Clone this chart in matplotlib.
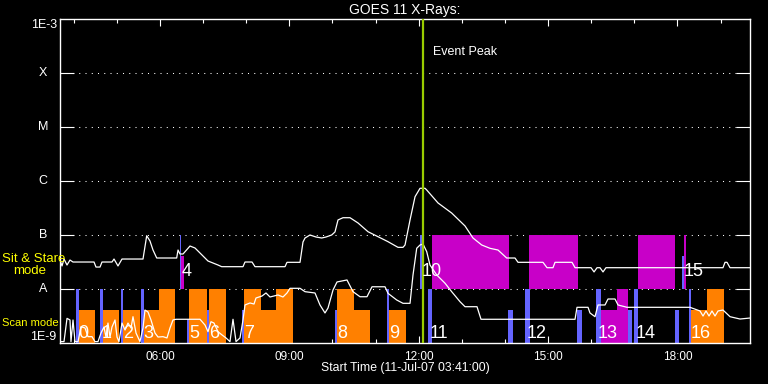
import matplotlib
matplotlib.use('Agg')
import matplotlib.pyplot as plt
import matplotlib.transforms as mtransforms

plt.rcParams['font.family'] = ['Liberation Sans', 'DejaVu Sans']

# time axis in decimal hours of 11-Jul-07
t_start = 3 + 41 / 60.0
t_end = t_start + 16.0
peak_time = 12.10

# GOES 11 long channel (1-8 A), W/m^2
long_t = [3.683, 3.730, 3.776, 3.846, 3.915, 3.985, 4.472, 4.518, 4.611, 4.657,
          4.889, 4.936, 5.028, 5.121, 5.608, 5.694, 5.770, 5.840, 5.926, 6.389,
          6.420, 6.466, 6.536, 6.698, 6.814, 6.930, 7.115, 7.347, 7.433, 7.927,
          7.973, 8.136, 8.205, 8.901, 8.947, 9.249, 9.318, 9.365, 9.480, 9.619,
          9.752, 9.852, 9.983, 10.060, 10.130, 10.246, 10.408, 10.594, 10.826, 11.057,
          11.289, 11.521, 11.637, 11.684, 11.800, 11.916, 12.032, 12.147, 12.187, 12.449,
          12.766, 13.075, 13.260, 13.462, 13.654, 13.840, 14.041, 14.234, 14.304, 14.883,
          14.976, 15.115, 15.162, 15.556, 15.626, 15.997, 16.067, 16.136, 16.205, 16.275,
          16.344, 19.057, 19.104, 19.150, 19.220, 19.683]
long_f = [3.44e-8, 2.67e-8, 3.59e-8, 2.78e-8, 3.44e-8, 3.16e-8, 3.16e-8, 2.55e-8, 2.55e-8, 3.16e-8,
          3.16e-8, 3.59e-8, 2.67e-8, 3.59e-8, 3.59e-8, 9.7e-8, 7.74e-8, 5.27e-8, 3.75e-8, 3.75e-8,
          5.27e-8, 4.45e-8, 4.45e-8, 6.25e-8, 5.74e-8, 4.64e-8, 3.30e-8, 2.78e-8, 2.59e-8, 2.59e-8,
          3.16e-8, 3.16e-8, 2.59e-8, 2.59e-8, 3.12e-8, 3.12e-8, 7.42e-8, 8.80e-8, 1.0e-7, 9.18e-8,
          8.80e-8, 9.18e-8, 1.0e-7, 1.14e-7, 1.90e-7, 2.09e-7, 2.09e-7, 1.67e-7, 1.15e-7, 9.31e-8,
          7.52e-8, 5.91e-8, 5.91e-8, 6.53e-8, 1.90e-7, 5.12e-7, 7.33e-7, 7.33e-7, 6.81e-7, 3.92e-7,
          2.55e-7, 1.47e-7, 8.80e-8, 6.53e-8, 5.67e-8, 5.27e-8, 3.75e-8, 3.75e-8, 3.12e-8, 3.12e-8,
          2.48e-8, 2.48e-8, 3.12e-8, 3.12e-8, 2.48e-8, 2.48e-8, 2.07e-8, 2.48e-8, 2.48e-8, 2.07e-8,
          2.48e-8, 2.48e-8, 3.12e-8, 3.12e-8, 2.48e-8, 2.48e-8]

# GOES 11 short channel (0.5-4 A), W/m^2
short_t = [3.707, 3.776, 3.846, 3.915, 3.938, 3.985, 4.031, 4.101, 4.170, 4.263,
           4.333, 4.425, 4.495, 4.564, 4.634, 4.704, 4.750, 4.796, 4.843, 4.889,
           4.959, 5.005, 5.051, 5.121, 5.191, 5.260, 5.330, 5.376, 5.446, 5.538,
           5.608, 5.654, 5.724, 5.793, 5.886, 5.956, 6.072, 6.164, 6.234, 6.304,
           6.373, 6.930, 7.046, 7.115, 7.185, 7.254, 7.347, 7.440, 7.533, 7.625,
           7.695, 7.765, 7.857, 7.927, 7.973, 8.089, 8.182, 8.228, 8.367, 8.460,
           8.553, 8.738, 8.854, 8.947, 9.017, 9.249, 9.365, 9.596, 9.712, 9.828,
           9.898, 10.014, 10.107, 10.338, 10.478, 10.640, 10.802, 10.918, 11.220, 11.289,
           11.491, 11.637, 11.800, 11.869, 11.955, 12.032, 12.101, 12.187, 12.263, 12.419,
           12.611, 12.766, 12.959, 13.075, 13.353, 13.446, 15.626, 15.672, 15.927, 15.973,
           16.089, 16.159, 16.321, 16.391, 16.553, 16.623, 16.832, 18.292, 18.524, 18.594,
           18.663, 18.733, 18.802, 18.872, 18.942, 19.057, 19.220, 19.452, 19.683]
short_f = [1.06e-9, 1.06e-9, 2.86e-9, 2.67e-9, 1.06e-9, 2.67e-9, 1.06e-9, 1.06e-9, 2.0e-9, 1.90e-9,
           1.31e-9, 1.31e-9, 1.06e-9, 1.06e-9, 1.53e-9, 1.98e-9, 1.29e-9, 2.34e-9, 1.29e-9, 1.98e-9,
           2.67e-9, 1.29e-9, 1.06e-9, 2.34e-9, 1.74e-9, 2.34e-9, 1.90e-9, 3.07e-9, 1.53e-9, 1.06e-9,
           1.90e-9, 4.08e-9, 3.75e-9, 2.67e-9, 1.53e-9, 1.29e-9, 1.31e-9, 1.24e-9, 1.90e-9, 2.67e-9,
           2.75e-9, 2.75e-9, 2.15e-9, 1.62e-9, 2.48e-9, 2.34e-9, 1.62e-9, 1.41e-9, 1.24e-9, 1.06e-9,
           2.75e-9, 1.06e-9, 1.24e-9, 2.67e-9, 5.06e-9, 5.51e-9, 5.27e-9, 6.81e-9, 7.41e-9, 8.44e-9,
           7.11e-9, 7.75e-9, 7.11e-9, 8.44e-9, 1.03e-8, 1.03e-8, 8.92e-9, 8.44e-9, 5.06e-9, 3.60e-9,
           4.45e-9, 9.58e-9, 1.35e-8, 1.47e-8, 8.92e-9, 7.19e-9, 7.19e-9, 1.10e-8, 1.10e-8, 8.32e-9,
           6.26e-9, 5.43e-9, 5.43e-9, 1.82e-8, 5.68e-8, 6.53e-8, 6.81e-8, 4.91e-8, 2.78e-8, 1.82e-8,
           1.28e-8, 8.92e-9, 5.82e-9, 4.70e-9, 4.70e-9, 2.75e-9, 2.75e-9, 4.58e-9, 4.58e-9, 3.60e-9,
           3.07e-9, 5.06e-9, 5.06e-9, 6.53e-9, 6.53e-9, 5.06e-9, 4.58e-9, 4.58e-9, 3.92e-9, 3.16e-9,
           3.92e-9, 3.16e-9, 3.92e-9, 3.16e-9, 3.92e-9, 4.08e-9, 3.07e-9, 2.78e-9, 2.90e-9]

# observation blocks: start, end, top of block, kind
scan_blocks = [
    (4.055, 4.117, 1e-8, 'blue'), (4.117, 4.488, 4.1e-9, 'orange'),
    (4.611, 4.687, 1e-8, 'blue'), (4.687, 5.058, 4.1e-9, 'orange'),
    (5.098, 5.151, 1e-8, 'blue'), (5.151, 5.538, 4.1e-9, 'orange'),
    (5.569, 5.624, 1e-8, 'blue'), (5.624, 5.979, 4.1e-9, 'orange'),
    (5.979, 6.350, 1e-8, 'orange'),
    (6.628, 6.682, 2.8e-9, 'blue'), (6.682, 7.085, 1e-8, 'orange'),
    (7.085, 7.139, 4.1e-9, 'blue'), (7.139, 7.533, 1e-8, 'orange'),
    (7.904, 7.950, 4.1e-9, 'blue'), (7.950, 8.337, 1e-8, 'orange'),
    (8.337, 8.699, 4.1e-9, 'orange'), (8.699, 9.079, 1e-8, 'orange'),
    (10.060, 10.107, 4.1e-9, 'blue'), (10.107, 10.501, 1e-8, 'orange'),
    (10.501, 10.872, 4.1e-9, 'orange'),
    (11.266, 11.319, 1e-8, 'blue'), (11.319, 11.707, 4.1e-9, 'orange'),
    (12.210, 12.310, 1e-8, 'blue'),
    (14.071, 14.187, 4.1e-9, 'blue'), (14.466, 14.574, 1e-8, 'blue'),
    (15.672, 15.781, 4.1e-9, 'blue'), (16.112, 16.221, 1e-8, 'blue'),
    (16.221, 16.847, 4.1e-9, 'magenta'), (16.600, 16.847, 1e-8, 'magenta'),
    (16.847, 16.940, 4.1e-9, 'blue'), (16.994, 17.079, 1e-8, 'blue'),
    (17.944, 18.037, 4.1e-9, 'blue'), (18.269, 18.322, 1e-8, 'blue'),
    (18.322, 18.686, 4.1e-9, 'orange'), (18.686, 19.080, 1e-8, 'orange'),
]
stare_blocks = [
    (6.466, 6.497, 1e-7, 'blue'), (6.497, 6.559, 4.1e-8, 'magenta'),
    (12.032, 12.085, 1e-7, 'blue'), (12.303, 14.087, 1e-7, 'magenta'),
    (14.558, 15.688, 1e-7, 'magenta'), (17.079, 17.944, 1e-7, 'magenta'),
    (18.107, 18.153, 4.1e-8, 'blue'), (18.153, 18.199, 1e-7, 'magenta'),
]

# sequence numbers: label, start time, band
obs_labels = [('0', 4.055, 'scan'), ('1', 4.611, 'scan'), ('2', 5.098, 'scan'),
              ('3', 5.569, 'scan'), ('4', 6.466, 'stare'), ('5', 6.628, 'scan'),
              ('6', 7.085, 'scan'), ('7', 7.904, 'scan'), ('8', 10.060, 'scan'),
              ('9', 11.266, 'scan'), ('10', 12.032, 'stare'), ('11', 12.210, 'scan'),
              ('12', 14.466, 'scan'), ('13', 16.112, 'scan'), ('14', 16.994, 'scan'),
              ('15', 18.107, 'stare'), ('16', 18.269, 'scan')]

class_levels = [1e-8, 1e-7, 1e-6, 1e-5, 1e-4]
class_names = ['A', 'B', 'C', 'M', 'X']
hour_ticks = [6, 9, 12, 15, 18]
hour_labels = ['06:00', '09:00', '12:00', '15:00', '18:00']

colours = {'blue': '#6464ff', 'orange': '#ff8000', 'magenta': '#c800c8'}
band_bottom = {'scan': 1e-9, 'stare': 1e-8}
label_y = {'scan': 1.5e-9, 'stare': 2.1e-8}

W, H = 768, 384
fig = plt.figure(figsize=(W / 100.0, H / 100.0), dpi=100, facecolor='black')
ax = fig.add_axes([60.0 / W, 1 - 343.0 / H, 690.0 / W, 324.0 / H], facecolor='black')
ax.set_yscale('log')
ax.set_xlim(t_start, t_end)
ax.set_ylim(1e-9, 1e-3)

# dotted class lines
for lev in class_levels:
    ax.axhline(lev, color='white', lw=0.75, ls=(0, (1, 5)), zorder=1)

for band, blocks in (('scan', scan_blocks), ('stare', stare_blocks)):
    bot = band_bottom[band]
    for t0, t1, top, kind in blocks:
        ax.bar(t0, top - bot, width=t1 - t0, bottom=bot, align='edge',
               color=colours[kind], linewidth=0, zorder=2)

ax.plot(long_t, long_f, color='white', lw=0.9, zorder=3)
ax.plot(short_t, short_f, color='white', lw=0.9, zorder=3)

ax.axvline(peak_time, color='#99cc00', lw=1.6, zorder=4)
ax.annotate('Event Peak', xy=(peak_time, 1e-3), xytext=(7, -24),
            textcoords='offset points', color='white', fontsize=9,
            ha='left', va='center', zorder=6)

for txt, t, band in obs_labels:
    ax.annotate(txt, xy=(t, label_y[band]), xytext=(1.5, 0), textcoords='offset points',
                color='white', fontsize=13, ha='left', va='center', zorder=6,
                family=['Liberation Sans Narrow', 'Liberation Sans', 'DejaVu Sans'])

# axes styling
for sp in ax.spines.values():
    sp.set_color('white')
    sp.set_linewidth(1.0)
ax.set_xticks(hour_ticks)
ax.set_xticklabels(hour_labels)
ax.set_xticks(range(4, 20), minor=True)
ax.tick_params(axis='x', which='major', direction='in', top=True, bottom=True,
               length=5, width=0.8, color='white', labelcolor='white',
               labelsize=8.5, pad=6)
ax.tick_params(axis='x', which='minor', direction='in', top=True, bottom=True,
               length=3, width=0.8, color='white')
ax.set_yticks(class_levels)
ax.set_yticklabels([])
ax.set_yticks([], minor=True)
ax.tick_params(axis='y', which='major', direction='in', left=True, right=True,
               length=10, width=0.8, color='white')

trans = mtransforms.blended_transform_factory(ax.transAxes, ax.transData)
for lev, name in zip(class_levels, class_names):
    ax.text(-0.0246, lev, name, transform=trans, color='white', fontsize=9,
            ha='center', va='center')
ax.text(-0.004, 1e-3, '1E-3', transform=trans, color='white', fontsize=9,
        ha='right', va='top')
ax.text(-0.005, 1e-9, '1E-9', transform=trans, color='white', fontsize=9,
        ha='right', va='bottom')

fig.text(405.0 / W, 1 - 10.0 / H, 'GOES 11 X-Rays:', color='white', fontsize=10,
         ha='center', va='center')
fig.text(405.0 / W, 1 - 368.0 / H, 'Start Time (11-Jul-07 03:41:00)', color='white',
         fontsize=8.8, ha='center', va='center')
fig.text(2.0 / W, 1 - 259.5 / H, 'Sit & Stare', color='yellow', fontsize=9.5,
         ha='left', va='center')
fig.text(13.0 / W, 1 - 271.0 / H, 'mode', color='yellow', fontsize=9.5,
         ha='left', va='center')
fig.text(2.0 / W, 1 - 323.5 / H, 'Scan mode', color='yellow', fontsize=8,
         ha='left', va='center')

fig.savefig('out.png', dpi=100, facecolor='black')
